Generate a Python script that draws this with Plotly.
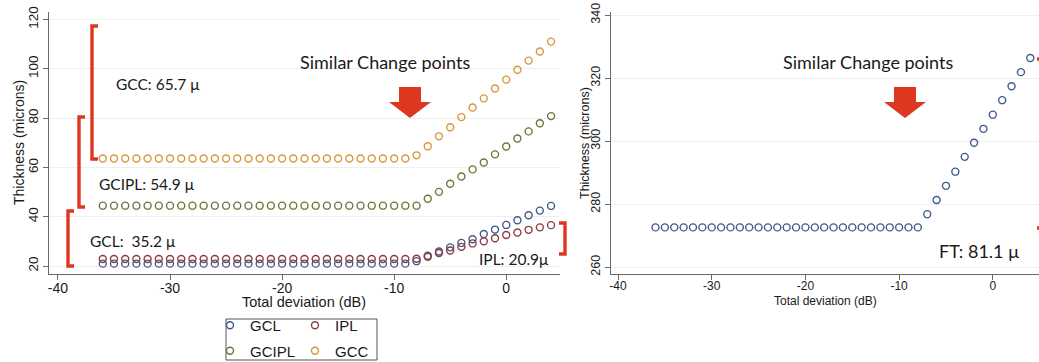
import plotly.graph_objects as go

W, H = 1039, 362

# Total deviation (dB) for every point
deviation = [-36, -35, -34, -33, -32, -31, -30, -29, -28, -27, -26, -25, -24, -23,
             -22, -21, -20, -19, -18, -17, -16, -15, -14, -13, -12, -11, -10, -9,
             -8, -7, -6, -5, -4, -3, -2, -1, 0, 1, 2, 3, 4]

# Layer thickness (microns)
gcl = [21.0, 21.0, 21.0, 21.0, 21.0, 21.0, 21.0, 21.0, 21.0, 21.0, 21.0, 21.0, 21.0, 21.0,
       21.0, 21.0, 21.0, 21.0, 21.0, 21.0, 21.0, 21.0, 21.0, 21.0, 21.0, 21.0, 21.0, 21.0,
       22.0, 24.2, 25.9, 27.6, 29.4, 30.9, 33.0, 34.8, 36.7, 38.6, 40.6, 42.5, 44.4]
ipl = [22.9, 22.9, 22.9, 22.9, 22.9, 22.9, 22.9, 22.9, 22.9, 22.9, 22.9, 22.9, 22.9, 22.9,
       22.9, 22.9, 22.9, 22.9, 22.9, 22.9, 22.9, 22.9, 22.9, 22.9, 22.9, 22.9, 22.9, 22.9,
       23.0, 23.8, 25.3, 26.3, 27.8, 29.2, 30.1, 31.3, 32.6, 33.6, 34.7, 35.7, 36.6]
gcipl = [44.5, 44.5, 44.5, 44.5, 44.5, 44.5, 44.5, 44.5, 44.5, 44.5, 44.5, 44.5, 44.5, 44.5,
         44.5, 44.5, 44.5, 44.5, 44.5, 44.5, 44.5, 44.5, 44.5, 44.5, 44.5, 44.5, 44.5, 44.5,
         44.5, 47.3, 50.1, 53.4, 56.3, 59.2, 62.0, 65.3, 68.5, 71.7, 74.6, 77.9, 80.8]
gcc = [63.6, 63.6, 63.6, 63.6, 63.6, 63.6, 63.6, 63.6, 63.6, 63.6, 63.6, 63.6, 63.6, 63.6,
       63.6, 63.6, 63.6, 63.6, 63.6, 63.6, 63.6, 63.6, 63.6, 63.6, 63.6, 63.6, 63.6, 63.6,
       64.9, 68.6, 72.6, 76.3, 80.4, 84.3, 88.0, 92.0, 95.6, 99.6, 103.3, 107.0, 111.0]
ft = [272.6, 272.6, 272.6, 272.6, 272.6, 272.6, 272.6, 272.6, 272.6, 272.6, 272.6, 272.6,
      272.6, 272.6, 272.6, 272.6, 272.6, 272.6, 272.6, 272.6, 272.6, 272.6, 272.6, 272.6,
      272.6, 272.6, 272.6, 272.6, 272.6, 276.8, 281.3, 285.8, 290.3, 295.0, 299.5, 303.9,
      308.4, 313.0, 317.4, 321.9, 326.4]

x_ticks = [-40, -30, -20, -10, 0]
x_tick_text = ["-40", "-30", "-20", "-10", "0"]
y_ticks_left = [20, 40, 60, 80, 100, 120]
y_ticks_right = [260, 280, 300, 320, 340]

COLORS = {"GCL": "#3f5b8c", "IPL": "#8e3c44", "GCIPL": "#66793a", "GCC": "#d9963c"}
RED = "#de3720"
AXIS = "#6a6a6a"
TXT = "#1a1a1a"
SANS = "Liberation Sans"


def px(x):
    return x / W


def py(y):
    return 1 - y / H


fig = go.Figure()


def add_series(name, y, xaxis, yaxis, legend, show=True):
    fig.add_trace(go.Scatter(
        x=deviation, y=y, mode="markers", name=name, legendgroup=name,
        xaxis=xaxis, yaxis=yaxis, legend=legend, showlegend=show,
        marker=dict(symbol="circle-open", size=7, color=COLORS[name],
                    line=dict(width=1.4, color=COLORS[name])),
    ))


add_series("GCL", gcl, "x", "y", "legend")
add_series("GCIPL", gcipl, "x", "y", "legend")
add_series("IPL", ipl, "x", "y", "legend2")
add_series("GCC", gcc, "x", "y", "legend2")
add_series("GCL", ft, "x2", "y2", "legend", show=False)


def axis_style(size):
    return dict(
        showline=True, linecolor=AXIS, linewidth=1, ticks="outside", ticklen=5,
        tickcolor=AXIS, mirror=False, zeroline=False, fixedrange=True,
        automargin=False, tickfont=dict(family=SANS, size=size, color=TXT),
    )


legend_common = dict(yanchor="top", xanchor="left", bgcolor="rgba(0,0,0,0)",
                     borderwidth=0, tracegroupgap=3, itemwidth=30,
                     font=dict(family=SANS, size=15, color=TXT))

fig.update_layout(
    width=W, height=H, margin=dict(l=0, r=0, t=0, b=0, autoexpand=False),
    paper_bgcolor="white", plot_bgcolor="white",
    xaxis=dict(domain=[px(49), px(560)], range=[-40.8, 4.8],
               tickvals=x_ticks, ticktext=x_tick_text, showgrid=False, anchor="y",
               ticklabelstandoff=-4, **axis_style(14)),
    yaxis=dict(domain=[py(274), py(12)], range=[16.8, 123], tickvals=y_ticks_left,
               tickangle=-90, showgrid=True, gridcolor="#efefef", anchor="x",
               **axis_style(13.5)),
    xaxis2=dict(domain=[px(611), 1.0], range=[-40.75, 4.93],
                tickvals=x_ticks, ticktext=x_tick_text, showgrid=False, anchor="y2",
                ticklabelstandoff=-4, **axis_style(12)),
    yaxis2=dict(domain=[py(274), py(12)], range=[257.8, 341], tickvals=y_ticks_right,
                tickangle=-90, showgrid=True, gridcolor="#efefef", anchor="x2",
                **axis_style(12.5)),
    legend=dict(x=px(210), y=py(309), **legend_common),
    legend2=dict(x=px(295), y=py(309), **legend_common),
    showlegend=True,
)

shapes = []

# legend frame
shapes.append(dict(type="rect", xref="paper", yref="paper",
                   x0=px(226), x1=px(377), y0=py(360), y1=py(319),
                   line=dict(color="#555555", width=1)))


def bracket(x, y_top, y_bot, serif):
    """Square bracket in pixel coordinates; positive serif opens right, negative opens left."""
    xs = x + serif
    path = (f"M {px(xs)},{py(y_top)} L {px(x)},{py(y_top)} "
            f"L {px(x)},{py(y_bot)} L {px(xs)},{py(y_bot)}")
    return dict(type="path", xref="paper", yref="paper", path=path,
                line=dict(color=RED, width=3.4))


shapes.append(bracket(92, 26, 159, 6))     # GCC
shapes.append(bracket(79, 117, 207, 6))    # GCIPL
shapes.append(bracket(68, 211, 266, 6))    # GCL
shapes.append(bracket(565, 223, 254, -6))  # IPL
shapes.append(bracket(1043, 59, 228, -6))  # FT, mostly past the edge


def down_arrow(cx):
    pts = [(cx - 11, 87), (cx + 11, 87), (cx + 11, 102), (cx + 21, 102),
           (cx, 118), (cx - 21, 102), (cx - 11, 102)]
    path = "M " + " L ".join(f"{px(a)},{py(b)}" for a, b in pts) + " Z"
    return dict(type="path", xref="paper", yref="paper", path=path,
                fillcolor=RED, line=dict(width=0))


shapes.append(down_arrow(410))
shapes.append(down_arrow(905))

fig.update_layout(shapes=shapes)

annotations = []


def label(text, x, y, size, anchor="left", font="Lato", angle=0):
    annotations.append(dict(text=text, x=px(x), y=py(y), xref="paper", yref="paper",
                            xanchor=anchor, yanchor="middle", showarrow=False,
                            textangle=angle,
                            font=dict(family=font, size=size, color=TXT)))


# axis titles
label("Total deviation (dB)", 304, 302, 14.5, "center", SANS)
label("Thickness (microns)", 19, 143, 14, "center", SANS, -90)
label("Total deviation (dB)", 825, 301, 12, "center", SANS)
label("Thickness (microns)", 585, 143, 12.5, "center", SANS, -90)

# callouts
label("Similar Change points", 385, 62, 18, "center")
label("Similar Change points", 868, 62, 18, "center")
label("GCC: 65.7 μ", 114, 84, 15.5)
label("GCIPL: 54.9 μ", 97, 184, 15.5)
label("GCL:\u00a0\u00a035.2 μ", 88, 241, 15.5)
label("IPL: 20.9μ", 551, 259, 15.5, "right")
label("FT: 81.1 μ", 937, 251, 18)

fig.update_layout(annotations=annotations)

fig.write_html("out.html")
